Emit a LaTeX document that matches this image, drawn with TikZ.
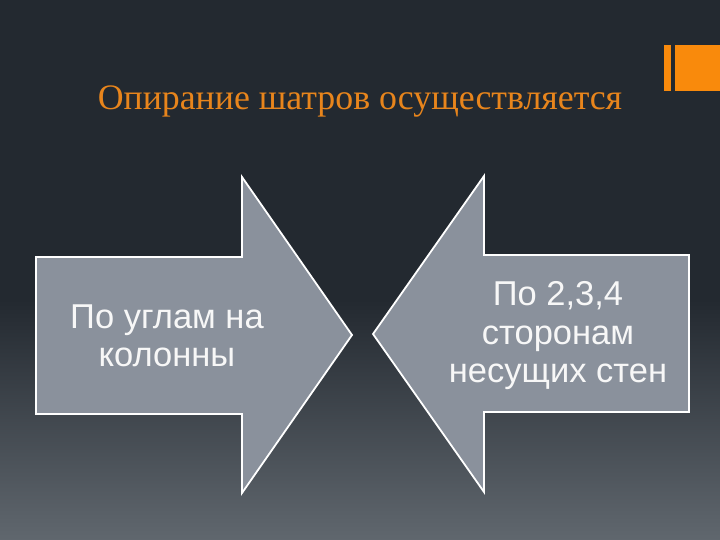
\documentclass[tikz,border=0pt]{standalone}
\usepackage{fontspec}
\setmainfont{Liberation Serif}
\setsansfont{Liberation Sans}

\definecolor{bgtop}{HTML}{232930}
\definecolor{bgbot}{HTML}{60676E}
\definecolor{arrowfill}{HTML}{8A919C}
\definecolor{accent}{HTML}{F98A0C}
\definecolor{titleorange}{HTML}{E8851C}

\tikzset{
  arrowshape/.style={draw=white, line width=1.8pt, line join=miter, fill=arrowfill},
  arrowtext/.style={font=\sffamily\fontsize{34.5}{38.5}\selectfont, text=white!94!gray, align=center, inner sep=0pt},
  titletext/.style={font=\fontsize{35.8}{40}\selectfont, text=titleorange, inner sep=0pt},
}

\begin{document}
\begin{tikzpicture}[x=1pt,y=-1pt]
            \useasboundingbox (0,0) rectangle (720,540);

            % Background
            \fill [bgtop] (0,0) rectangle (720,301);
            \shade [top color=bgtop, bottom color=bgbot] (0,300) rectangle (720,540);

            % Accent bars
            \fill [accent] (664,45) rectangle (671,91);
            \fill [accent] (675,45) rectangle (720,91);

            % Title
            \node [titletext, anchor=base] (title) at (360,110) {Опирание шатров осуществляется};

            % Drawing arrow right
            \draw [arrowshape] (36,257) -- (242,257) -- (242,177) -- (352,335)
                -- (242,493) -- (242,414) -- (36,414) -- cycle;

            % Drawing arrow left
            \draw [arrowshape] (689,255) -- (484,255) -- (484,176) -- (373,334)
                -- (484,492) -- (484,412) -- (689,412) -- cycle;

            % Arrow texts
            \node [arrowtext] (corners) at (167,336) {По углам на\\колонны};
            \node [arrowtext] (walls) at (558,336) {По 2,3,4\\сторонам\\несущих стен};
\end{tikzpicture}
\end{document}
